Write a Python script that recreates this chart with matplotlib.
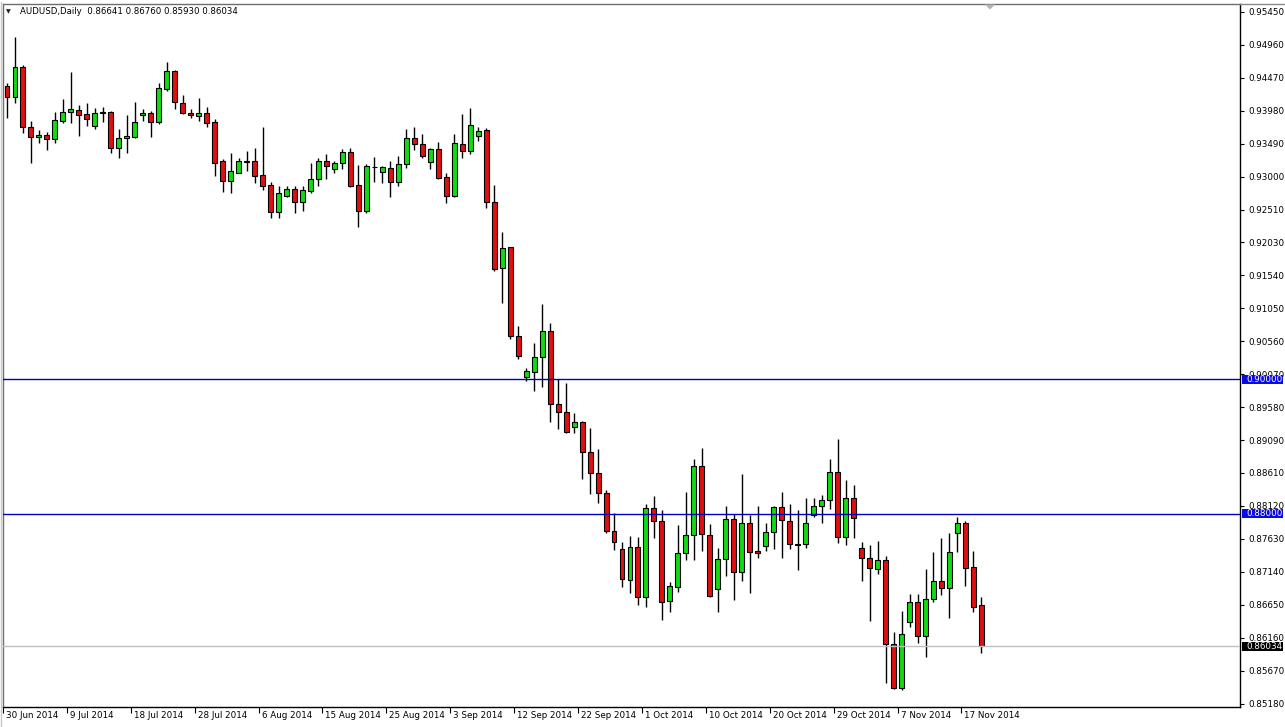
import matplotlib
matplotlib.use('Agg')
import matplotlib.pyplot as plt
from matplotlib.patches import Rectangle, Polygon
from matplotlib.lines import Line2D
import matplotlib.transforms as mtransforms

# ---------------- data (AUDUSD daily) ----------------
opens = [0.94348, 0.94180, 0.94626, 0.93744, 0.93596, 0.93616, 0.93557, 0.93833, 0.93958, 0.93992,
         0.93928, 0.93759, 0.93943, 0.93962, 0.93424, 0.93572, 0.93596, 0.93913, 0.93943, 0.93818,
         0.94308, 0.94571, 0.94100, 0.93952, 0.93907, 0.93952, 0.93809, 0.93235, 0.92943, 0.93061,
         0.93225, 0.93235, 0.93023, 0.92875, 0.92474, 0.92720, 0.92815, 0.92631, 0.92794, 0.92964,
         0.93235, 0.93112, 0.93201, 0.93364, 0.92875, 0.92498, 0.93142, 0.93067, 0.93127, 0.92928,
         0.93186, 0.93572, 0.93483, 0.93216, 0.93409, 0.92993, 0.92720, 0.93483, 0.93388, 0.93611,
         0.93695, 0.92622, 0.91643, 0.91954, 0.90643, 0.90034, 0.90108, 0.90322, 0.90712, 0.89625,
         0.89515, 0.89283, 0.89366, 0.88912, 0.88601, 0.88304, 0.87749, 0.87473, 0.87017, 0.87502,
         0.86760, 0.88081, 0.87897, 0.86710, 0.86909, 0.87413, 0.87680, 0.88709, 0.87680, 0.86888,
         0.87324, 0.87918, 0.87131, 0.87859, 0.87443, 0.87526, 0.87725, 0.88096, 0.87893, 0.87540,
         0.87547, 0.87977, 0.88115, 0.88204, 0.88624, 0.87651, 0.88230, 0.87488, 0.87339, 0.87176,
         0.87314, 0.86063, 0.85410, 0.86389, 0.86686, 0.86186, 0.86731, 0.87002, 0.86894, 0.87710,
         0.87859, 0.87210, 0.86641]
highs = [0.94393, 0.95071, 0.94660, 0.93829, 0.93695, 0.93670, 0.93967, 0.94155, 0.94560, 0.94066,
         0.94100, 0.94017, 0.94032, 0.93977, 0.93710, 0.93918, 0.94115, 0.94002, 0.93982, 0.94397,
         0.94709, 0.94586, 0.94215, 0.94002, 0.94174, 0.94032, 0.93858, 0.93260, 0.93358, 0.93275,
         0.93384, 0.93424, 0.93744, 0.92928, 0.92864, 0.92864, 0.92864, 0.92864, 0.93210, 0.93275,
         0.93339, 0.93235, 0.93413, 0.93433, 0.93176, 0.93186, 0.93290, 0.93161, 0.93235, 0.93309,
         0.93706, 0.93735, 0.93636, 0.93433, 0.93513, 0.93053, 0.93631, 0.93933, 0.94026, 0.93735,
         0.93720, 0.92879, 0.92182, 0.91963, 0.90787, 0.90159, 0.90530, 0.91113, 0.90827, 0.89996,
         0.89936, 0.89491, 0.89381, 0.89268, 0.88957, 0.88353, 0.88007, 0.87586, 0.87670, 0.87660,
         0.88145, 0.88264, 0.88056, 0.86992, 0.87833, 0.88328, 0.88808, 0.88972, 0.87844, 0.87496,
         0.88115, 0.87997, 0.88590, 0.87982, 0.88115, 0.87867, 0.88115, 0.88328, 0.88145, 0.88056,
         0.88230, 0.88230, 0.88274, 0.88808, 0.89105, 0.88501, 0.88427, 0.87586, 0.87537, 0.87596,
         0.87373, 0.86250, 0.86557, 0.86805, 0.86809, 0.87176, 0.87437, 0.87636, 0.87710, 0.87948,
         0.87897, 0.87448, 0.86760]
lows = [0.93873, 0.94100, 0.93646, 0.93201, 0.93498, 0.93398, 0.93498, 0.93803, 0.93803, 0.93606,
        0.93755, 0.93714, 0.93818, 0.93358, 0.93284, 0.93358, 0.93581, 0.93833, 0.93596, 0.93784,
        0.94278, 0.94007, 0.93928, 0.93869, 0.93829, 0.93735, 0.93013, 0.92780, 0.92756, 0.93053,
        0.93087, 0.92913, 0.92805, 0.92394, 0.92385, 0.92696, 0.92468, 0.92498, 0.92756, 0.92869,
        0.92968, 0.93061, 0.93112, 0.92854, 0.92260, 0.92459, 0.92928, 0.92904, 0.92705, 0.92869,
        0.93136, 0.93398, 0.93284, 0.93116, 0.92968, 0.92616, 0.92705, 0.93284, 0.93339, 0.93536,
        0.92533, 0.91607, 0.91123, 0.90589, 0.90292, 0.89975, 0.89826, 0.89877, 0.89366, 0.89262,
        0.89194, 0.89203, 0.88512, 0.88293, 0.88155, 0.87710, 0.87462, 0.86909, 0.86820, 0.86646,
        0.86621, 0.87636, 0.86424, 0.86542, 0.86835, 0.87314, 0.87314, 0.87452, 0.86769, 0.86542,
        0.87081, 0.86720, 0.87007, 0.86820, 0.87339, 0.87452, 0.87473, 0.87339, 0.87473, 0.87166,
        0.87488, 0.87948, 0.87867, 0.88071, 0.87571, 0.87537, 0.87636, 0.87007, 0.86413, 0.87102,
        0.85493, 0.85395, 0.85385, 0.86324, 0.86078, 0.85879, 0.86695, 0.86795, 0.86449, 0.87437,
        0.86933, 0.86547, 0.85930]
closes = [0.94185, 0.94626, 0.93744, 0.93596, 0.93621, 0.93557, 0.93844, 0.93962, 0.94007, 0.93922,
          0.93863, 0.93943, 0.93962, 0.93424, 0.93572, 0.93606, 0.93809, 0.93943, 0.93818, 0.94314,
          0.94566, 0.94106, 0.93943, 0.93918, 0.93952, 0.93803, 0.93210, 0.92943, 0.93087, 0.93235,
          0.93231, 0.93017, 0.92869, 0.92474, 0.92756, 0.92815, 0.92631, 0.92805, 0.92964, 0.93235,
          0.93165, 0.93210, 0.93364, 0.92869, 0.92498, 0.93161, 0.93151, 0.93142, 0.92928, 0.93186,
          0.93572, 0.93483, 0.93314, 0.93409, 0.92978, 0.92720, 0.93498, 0.93388, 0.93769, 0.93685,
          0.92622, 0.91632, 0.91940, 0.90643, 0.90346, 0.90119, 0.90322, 0.90712, 0.89625, 0.89515,
          0.89218, 0.89366, 0.88912, 0.88601, 0.88304, 0.87749, 0.87586, 0.87028, 0.87502, 0.86760,
          0.88081, 0.87893, 0.86695, 0.86928, 0.87413, 0.87680, 0.88709, 0.87695, 0.86784, 0.87324,
          0.87918, 0.87140, 0.87859, 0.87437, 0.87413, 0.87725, 0.88096, 0.87908, 0.87547, 0.87547,
          0.87859, 0.88120, 0.88200, 0.88624, 0.87651, 0.88230, 0.87933, 0.87339, 0.87191, 0.87314,
          0.86063, 0.85419, 0.86216, 0.86686, 0.86186, 0.86731, 0.87002, 0.86894, 0.87428, 0.87859,
          0.87191, 0.86621, 0.86034]

date_labels = ['30 Jun 2014', '9 Jul 2014', '18 Jul 2014', '28 Jul 2014', '6 Aug 2014',
               '15 Aug 2014', '25 Aug 2014', '3 Sep 2014', '12 Sep 2014', '22 Sep 2014',
               '1 Oct 2014', '10 Oct 2014', '20 Oct 2014', '29 Oct 2014', '7 Nov 2014',
               '17 Nov 2014']
date_label_bars = [0, 8, 16, 24, 32, 40, 48, 56, 64, 72, 80, 88, 96, 104, 112, 120]

price_ticks = [0.95450, 0.94960, 0.94470, 0.93980, 0.93490, 0.93000, 0.92510, 0.92030,
               0.91540, 0.91050, 0.90560, 0.90070, 0.89580, 0.89090, 0.88610, 0.88120,
               0.87630, 0.87140, 0.86650, 0.86160, 0.85670, 0.85180]

level_lines = [0.90000, 0.88000]
last_price = 0.86034
title_text = 'AUDUSD,Daily  0.86641 0.86760 0.85930 0.86034'

# ---------------- layout ----------------
W, H = 1285, 727
fig = plt.figure(figsize=(W / 100, H / 100), dpi=100, facecolor='white')
ax_left, ax_right, ax_top, ax_bot = 3, 1240, 4, 707
ax = fig.add_axes([ax_left / W, 1 - ax_bot / H, (ax_right - ax_left) / W, (ax_bot - ax_top) / H])
ax.set_facecolor('white')

px_per_bar = 8.0
ax.set_xlim((ax_left - 5) / px_per_bar, (ax_right - 5) / px_per_bar)
ax.set_ylim(0.851325, 0.95565)

bull = '#10dc10'
bear = '#e01010'
body_w = 0.62
for i, (o, h, l, c) in enumerate(zip(opens, highs, lows, closes)):
    ax.vlines(i, l, h, color='black', lw=1.0, zorder=2)
    lo, hi = min(o, c), max(o, c)
    col = bull if c >= o else bear
    ax.add_patch(Rectangle((i - body_w / 2, lo), body_w, hi - lo, facecolor=col,
                           edgecolor='black', lw=0.8, zorder=3))

for lv in level_lines:
    ax.axhline(lv, color='#0000c0', lw=1.0, zorder=5)
ax.axhline(last_price, color='#c0c0c0', lw=1.0, zorder=5)

# spines
for s in ['top', 'left']:
    ax.spines[s].set_color('#6e6e6e')
for s in ['right', 'bottom']:
    ax.spines[s].set_color('black')
for s in ax.spines.values():
    s.set_linewidth(1.0)

# y ticks on right
ax.yaxis.tick_right()
ax.set_yticks(price_ticks)
ax.set_yticklabels(['%.5f' % v for v in price_ticks])
ax.tick_params(axis='y', direction='out', length=3, width=0.8, pad=3,
               labelsize=6.3, colors='black')

# x ticks
ax.set_xticks([b - 0.5 for b in date_label_bars])
ax.set_xticklabels([''] * len(date_label_bars))
ax.tick_params(axis='x', direction='out', length=4, width=0.8)
for b, lab in zip(date_label_bars, date_labels):
    ax.annotate(lab, xy=(b - 0.5, 0), xycoords=('data', 'axes fraction'),
                xytext=(3, -9), textcoords='offset pixels', ha='left', va='center',
                fontsize=6.3, color='black', annotation_clip=False)

# highlighted price labels
trans = mtransforms.blended_transform_factory(ax.transAxes, ax.transData)
axw = ax_right - ax_left
box_h = 9 * (0.95565 - 0.851325) / (ax_bot - ax_top)
def price_box(val, fc):
    ax.add_patch(Rectangle((1 + 1.5 / axw, val - box_h / 2), 41.5 / axw, box_h,
                           transform=trans, facecolor=fc, edgecolor='none',
                           clip_on=False, zorder=10))
    ax.text(1 + 6 / axw, val, '%.5f' % val, transform=trans, color='white',
            fontsize=6.3, ha='left', va='center', zorder=11, clip_on=False)

for lv in level_lines:
    price_box(lv, '#0a0ae6')
price_box(last_price, 'black')

# title
fig.text(6 / W, 1 - 12 / H, '\u25bc', fontsize=4.5, ha='left', va='center', color='#202020')
fig.text(20.5 / W, 1 - 12 / H, title_text, fontsize=6.2, ha='left', va='center', color='black')

# chart shift marker
fig.patches.append(Polygon([[985 / W, 1 - 4.5 / H], [995 / W, 1 - 4.5 / H], [990 / W, 1 - 9.5 / H]],
                           closed=True, transform=fig.transFigure, facecolor='#b4b4b4',
                           edgecolor='none', zorder=12))
# frame lines outside axes
fig.add_artist(Line2D([ax_right / W, 1], [1 - ax_top / H, 1 - ax_top / H], color='#8a8a8a', lw=1.0))
fig.add_artist(Line2D([1 / W, 1 / W], [0, 1 - 2 / H], color='#c8c8c8', lw=1.0))

fig.savefig('out.png', dpi=100, facecolor='white')
